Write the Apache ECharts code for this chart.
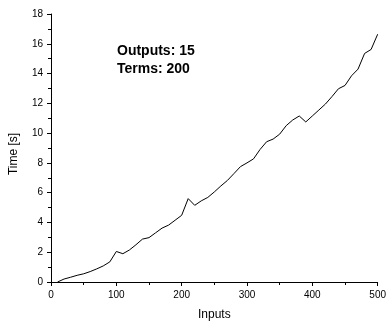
<!DOCTYPE html>
<html>
<head>
<meta charset="utf-8">
<script src="https://cdn.jsdelivr.net/npm/echarts@6/dist/echarts.min.js"></script>
<style>
html,body{margin:0;padding:0;background:#fff;}
#chart{width:389px;height:326px;}
</style>
</head>
<body>
<div id="chart"></div>
<script>
const inputs = [10,20,30,40,50,60,70,80,90,100,110,120,130,140,150,160,170,180,190,200,210,220,230,240,250,260,270,280,290,300,310,320,330,340,350,360,370,380,390,400,410,420,430,440,450,460,470,480,490,500];
const times = [0.0,0.2,0.32,0.45,0.55,0.7,0.88,1.08,1.35,2.05,1.9,2.15,2.5,2.88,2.98,3.3,3.62,3.82,4.15,4.48,5.6,5.15,5.45,5.68,6.05,6.45,6.82,7.28,7.75,8.0,8.27,8.9,9.42,9.6,9.93,10.5,10.88,11.15,10.75,11.15,11.55,11.95,12.45,12.98,13.2,13.85,14.3,15.35,15.62,16.64];
const annotationLines = ['Outputs: 15', 'Terms: 200'];
const xName = 'Inputs';
const yName = 'Time [s]';

const chart = echarts.init(document.getElementById('chart'), null, {renderer: 'canvas'});
const font = 'Liberation Sans, Arial, sans-serif';
chart.setOption({
  animation: false,
  backgroundColor: '#fff',
  grid: {left: 48, right: 6, top: 14, bottom: 41, containLabel: false},
  xAxis: {
    type: 'value', min: 0, max: 500, interval: 100,
    name: xName, nameLocation: 'middle', nameGap: 27,
    nameTextStyle: {color: '#000', fontSize: 12, fontFamily: font},
    axisLine: {show: true, onZero: false, lineStyle: {color: '#000', width: 1}},
    axisTick: {show: true, length: 4, inside: false, lineStyle: {color: '#000'}},
    minorTick: {show: true, splitNumber: 2, length: 3, lineStyle: {color: '#000'}},
    axisLabel: {color: '#000', fontSize: 10, fontFamily: font, margin: 8},
    splitLine: {show: false}
  },
  yAxis: {
    type: 'value', min: 0, max: 18, interval: 2,
    name: yName, nameLocation: 'middle', nameGap: 31,
    nameTextStyle: {color: '#000', fontSize: 12, fontFamily: font, padding: [0, 12, 0, 0]},
    axisLine: {show: true, onZero: false, lineStyle: {color: '#000', width: 1}},
    axisTick: {show: true, length: 4, inside: false, lineStyle: {color: '#000'}},
    minorTick: {show: true, splitNumber: 2, length: 3, lineStyle: {color: '#000'}},
    axisLabel: {color: '#000', fontSize: 10, fontFamily: font, margin: 8},
    splitLine: {show: false}
  },
  graphic: [{
    type: 'text', left: 117, top: 42, z: 10,
    style: {text: annotationLines.join('\n'), font: 'bold 14px ' + font, fill: '#000', lineHeight: 18}
  }],
  series: [{
    type: 'line',
    data: inputs.map((x, i) => [x, times[i]]),
    showSymbol: false,
    symbol: 'none',
    lineStyle: {color: '#000', width: 1},
    itemStyle: {color: '#000'}
  }]
});
</script>
</body>
</html>
